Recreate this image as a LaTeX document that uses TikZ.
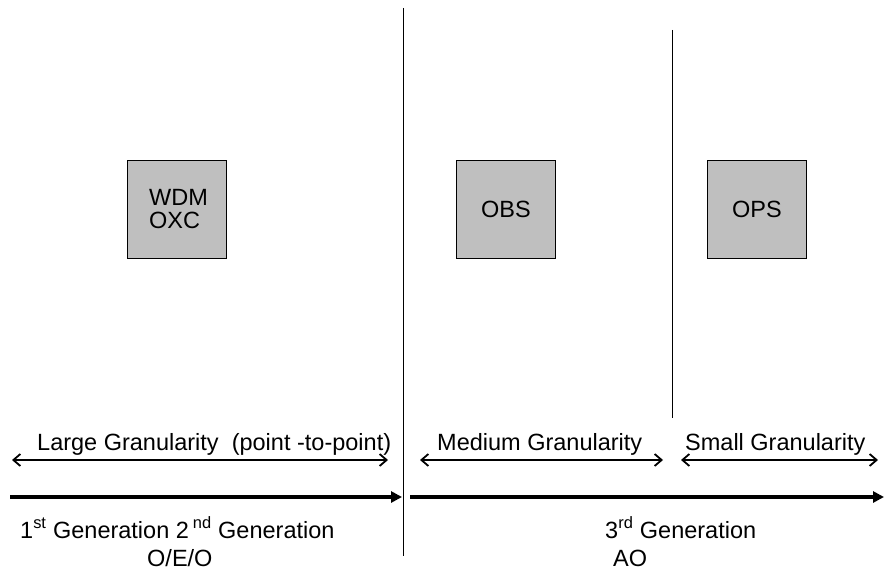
\documentclass[tikz,border=0pt]{standalone}
\usepackage{fontspec}
\setmainfont{Liberation Sans}
\usetikzlibrary{arrows.meta}
\tikzset{
  gbox/.style={draw, fill=black!25, minimum width=99pt, minimum height=98pt, align=left, font=\fontsize{23.5}{23}\selectfont},
  lbl/.style={font=\fontsize{23.5}{26}\selectfont, inner sep=0pt},
  span/.style={{Straight Barb[length=7pt,width=12pt,line width=1.8pt]}-{Straight Barb[length=7pt,width=12pt,line width=1.8pt]}, line width=1.6pt},
  tline/.style={-{Triangle[length=11pt,width=11pt]}, line width=3.5pt}
}
\begin{document}
\begin{tikzpicture}[x=1pt,y=-1pt]
  \useasboundingbox (0,0) rectangle (884,572);
  % switching nodes
  \node[gbox] (wdm) at (176.5,209) {\hspace{4pt}WDM\\\hspace{4pt}OXC};
  \node[gbox] (obs) at (506,209) {OBS};
  \node[gbox] (ops) at (757,209) {OPS};
  % dividers
  \coordinate (d1t) at (403,8); \coordinate (d1b) at (403,556);
  \coordinate (d2t) at (672,30); \coordinate (d2b) at (672,418);
  \draw[line width=1pt] (d1t) -- (d1b);
  \draw[line width=1pt] (d2t) -- (d2b);
  % granularity spans
  \coordinate (g1l) at (12,460); \coordinate (g1r) at (388,460);
  \coordinate (g2l) at (420,460); \coordinate (g2r) at (663,460);
  \coordinate (g3l) at (681,460); \coordinate (g3r) at (878,460);
  \draw[span] (g1l) -- (g1r);
  \draw[span] (g2l) -- (g2r);
  \draw[span] (g3l) -- (g3r);
  \node[lbl, anchor=base west] (lg) at (37,450) {Large Granularity\ \ (point -to-point)};
  \node[lbl, anchor=base west] (mg) at (437,450) {Medium Granularity};
  \node[lbl, anchor=base west] (sg) at (685,450) {Small Granularity};
  % generation time line
  \coordinate (t1l) at (10,497); \coordinate (t1r) at (402,497);
  \coordinate (t2l) at (410,497); \coordinate (t2r) at (884,497);
  \draw[tline] (t1l) -- (t1r);
  \draw[tline] (t2l) -- (t2r);
  \node[lbl, anchor=base west] (gen12) at (20,538) {1\textsuperscript{st} Generation 2\,\textsuperscript{nd} Generation};
  \node[lbl, anchor=base west] (oeo) at (147,566) {O/E/O};
  \node[lbl, anchor=base west] (gen3) at (605,538) {3\textsuperscript{rd} Generation};
  \node[lbl, anchor=base west] (ao) at (613,566) {AO};
\end{tikzpicture}
\end{document}
